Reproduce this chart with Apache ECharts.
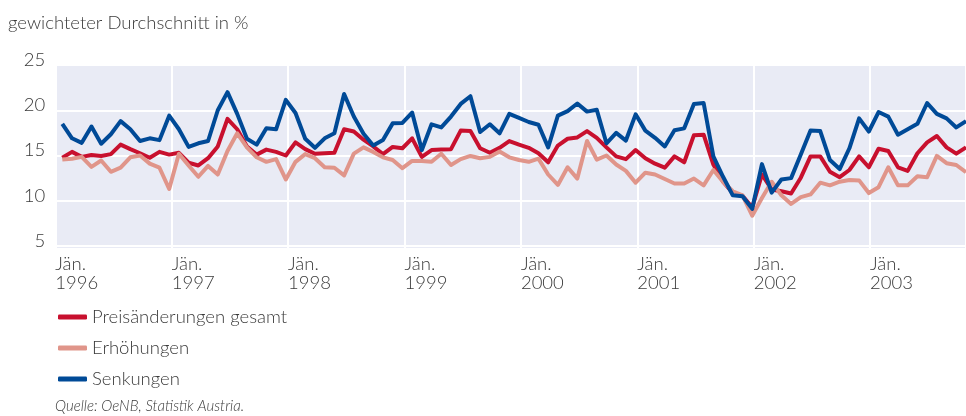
<!DOCTYPE html>
<html>
<head>
<meta charset="utf-8">
<script src="https://cdn.jsdelivr.net/npm/echarts@6/dist/echarts.min.js"></script>
<style>
html,body{margin:0;padding:0;background:#fff;}
#chart{width:966px;height:416px;}
</style>
</head>
<body>
<div id="chart"></div>
<script>
// ---- data ----
const years = [1996, 1997, 1998, 1999, 2000, 2001, 2002, 2003];
const monthNames = ['Jän.', 'Feb.', 'März', 'Apr.', 'Mai', 'Juni', 'Juli', 'Aug.', 'Sep.', 'Okt.', 'Nov.', 'Dez.'];
const seriesNames = ['Preisänderungen gesamt', 'Erhöhungen', 'Senkungen'];
const yTicks = [5, 10, 15, 20, 25];

const gesamt = [
  14.75, 15.4, 14.85, 15.05, 14.95, 15.15, 16.2, 15.7, 15.25, 14.75, 15.4, 15.1,
  15.3, 14.2, 13.9, 14.7, 16.0, 19.05, 17.9, 16.0, 15.1, 15.65, 15.4, 15.0,
  16.45, 15.7, 15.2, 15.25, 15.3, 17.9, 17.65, 16.75, 16.0, 15.15, 15.95, 15.8,
  16.9, 14.85, 15.6, 15.65, 15.7, 17.75, 17.7, 15.8, 15.3, 15.85, 16.6, 16.2,
  15.85, 15.25, 14.25, 16.1, 16.85, 17.0, 17.7, 16.95, 15.9, 14.9, 14.6, 15.6,
  14.7, 14.1, 13.65, 14.9, 14.25, 17.25, 17.3, 14.0, 12.1, 10.85, 10.55, 9.25,
  12.9, 11.25, 11.05, 10.8, 12.55, 14.9, 14.9, 13.2, 12.6, 13.4, 14.9, 13.7,
  15.75, 15.5, 13.7, 13.3, 15.25, 16.45, 17.15, 15.9, 15.2, 15.9
];
const erhoehungen = [
  14.55, 14.65, 14.85, 13.75, 14.45, 13.2, 13.65, 14.8, 15.0, 14.1, 13.65, 11.3,
  15.2, 13.9, 12.65, 13.85, 12.9, 15.5, 17.45, 15.9, 14.8, 14.3, 14.6, 12.35,
  14.3, 15.15, 14.7, 13.7, 13.65, 12.8, 15.2, 15.9, 15.4, 14.8, 14.5, 13.6,
  14.4, 14.4, 14.3, 15.2, 13.95, 14.6, 14.95, 14.7, 14.85, 15.45, 14.8, 14.5,
  14.3, 14.65, 12.9, 11.75, 13.7, 12.45, 16.6, 14.55, 15.0, 14.0, 13.3, 12.0,
  13.1, 12.9, 12.4, 11.9, 11.9, 12.45, 11.7, 13.4, 12.1, 11.05, 10.6, 8.35,
  10.3, 12.1, 10.6, 9.65, 10.4, 10.7, 12.0, 11.7, 12.1, 12.3, 12.25, 10.85,
  11.5, 13.7, 11.7, 11.7, 12.7, 12.6, 14.95, 14.15, 13.95, 13.15
];
const senkungen = [
  18.5, 16.9, 16.4, 18.2, 16.3, 17.35, 18.8, 17.9, 16.6, 16.9, 16.7, 19.4,
  17.9, 15.95, 16.35, 16.6, 20.0, 22.0, 19.6, 16.85, 16.2, 18.0, 17.9, 21.15,
  19.7, 16.85, 15.85, 16.9, 17.45, 21.8, 19.3, 17.4, 16.1, 16.7, 18.55, 18.6,
  19.75, 15.6, 18.45, 18.1, 19.3, 20.7, 21.55, 17.6, 18.45, 17.45, 19.6, 19.15,
  18.7, 18.4, 15.9, 19.4, 19.9, 20.75, 19.85, 20.05, 16.35, 17.5, 16.65, 19.55,
  17.75, 16.95, 16.0, 17.8, 18.0, 20.7, 20.8, 14.9, 12.65, 10.6, 10.5, 9.1,
  14.05, 10.9, 12.35, 12.5, 15.1, 17.75, 17.7, 14.5, 13.5, 15.8, 19.1, 17.65,
  19.8, 19.3, 17.3, 17.9, 18.5, 20.8, 19.6, 19.1, 18.1, 18.8
];

// month categories (Jän. 1996 ...)
const categories = [];
for (let k = 0; k < gesamt.length; k++) {
  categories.push(monthNames[k % 12] + ' ' + (years[0] + Math.floor(k / 12)));
}

const colors = ['#c8102e', '#e0958a', '#004a97'];
const textColor = '#3a3a3a';
const FONT = 'Lato, "Open Sans", sans-serif';
const FW = 300;

const chart = echarts.init(document.getElementById('chart'), null, {renderer: 'canvas'});

const monthPx = 116.4 / 12;          // width of one month in the year grid
const yearGridLeft = 55.3;
const yearGridMax = (966 - yearGridLeft) / monthPx;

chart.setOption({
  animation: false,
  textStyle: {fontFamily: FONT},
  title: {
    text: 'gewichteter Durchschnitt in %',
    left: 3, top: 9,
    textStyle: {fontFamily: FONT, fontSize: 18.5, fontWeight: FW, color: textColor}
  },
  legend: {
    orient: 'vertical',
    left: 53, top: 302,
    icon: 'roundRect',
    itemWidth: 29, itemHeight: 5,
    itemGap: 11,
    data: seriesNames,
    textStyle: {fontFamily: FONT, fontSize: 18.5, fontWeight: FW, color: textColor, lineHeight: 20, padding: [0, 0, 0, 0]}
  },
  grid: [
    // year background + vertical lines
    {left: yearGridLeft, right: 0, top: 64, height: 184, show: true, backgroundColor: '#e9ebf5', borderWidth: 0, z: -1},
    // horizontal grid lines + y labels
    {left: yearGridLeft, right: 0, top: 65, height: 181},
    // data
    {left: 62.3, width: 93 * 9.746, top: 65, height: 181}
  ],
  xAxis: [
    {
      gridIndex: 0, type: 'value', min: 0, max: yearGridMax, interval: 12,
      axisLine: {show: false}, axisTick: {show: false},
      splitLine: {show: true, lineStyle: {color: '#ffffff', width: 2}},
      axisLabel: {
        show: true, align: 'left', margin: 7, showMaxLabel: false,
        fontFamily: FONT, fontSize: 18.5, fontWeight: FW, lineHeight: 19, color: textColor,
        formatter: v => (v % 12 === 0 && years[v / 12] !== undefined) ? 'Jän.\n' + years[v / 12] : ''
      }
    },
    {gridIndex: 1, type: 'value', min: 0, max: 1, show: false},
    {gridIndex: 2, type: 'category', data: categories, boundaryGap: false, show: false}
  ],
  yAxis: [
    {gridIndex: 0, type: 'value', min: 0, max: 1, show: false},
    {
      gridIndex: 1, type: 'value', min: 5, max: 25, interval: 5,
      axisLine: {show: false}, axisTick: {show: false},
      splitLine: {show: true, lineStyle: {color: '#ffffff', width: 2}},
      axisLabel: {
        margin: 10, fontFamily: FONT, fontSize: 18.5, fontWeight: FW, color: textColor,
        verticalAlign: 'bottom', lineHeight: 10,
        formatter: v => yTicks.indexOf(v) >= 0 ? String(v) : ''
      }
    },
    {gridIndex: 2, type: 'value', min: 5, max: 25, show: false}
  ],
  series: [
    {name: seriesNames[0], type: 'line', xAxisIndex: 2, yAxisIndex: 2, data: gesamt,
     symbol: 'none', lineStyle: {color: colors[0], width: 4, join: 'round'}, itemStyle: {color: colors[0]}},
    {name: seriesNames[1], type: 'line', xAxisIndex: 2, yAxisIndex: 2, data: erhoehungen,
     symbol: 'none', lineStyle: {color: colors[1], width: 4, join: 'round'}, itemStyle: {color: colors[1]}},
    {name: seriesNames[2], type: 'line', xAxisIndex: 2, yAxisIndex: 2, data: senkungen,
     symbol: 'none', lineStyle: {color: colors[2], width: 4, join: 'round'}, itemStyle: {color: colors[2]}}
  ],
  graphic: [
    {type: 'text', left: 55, top: 399,
     style: {text: 'Quelle: OeNB, Statistik Austria.', fontFamily: FONT, fontSize: 15, fontWeight: FW, fontStyle: 'italic', fill: textColor}}
  ]
});
</script>
</body>
</html>
